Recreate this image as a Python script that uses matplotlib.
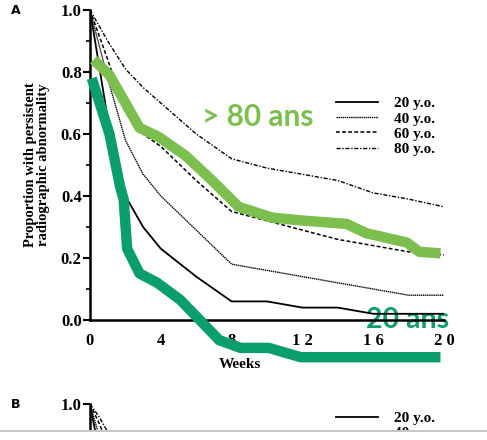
import numpy as np
import matplotlib
matplotlib.use("Agg")
import matplotlib.pyplot as plt
from matplotlib.patches import Rectangle

# panel A, values
weeks = [0, 1, 2, 3, 4, 6, 8, 10, 12, 14, 16, 18, 20]
y20 = [1.0, 0.65, 0.40, 0.30, 0.23, 0.14, 0.06, 0.06, 0.04, 0.04, 0.02, 0.02, 0.02]
y40 = [1.0, 0.78, 0.58, 0.47, 0.40, 0.29, 0.18, 0.16, 0.14, 0.12, 0.10, 0.08, 0.08]
y60 = [1.0, 0.84, 0.67, 0.60, 0.56, 0.45, 0.35, 0.32, 0.29, 0.26, 0.24, 0.22, 0.21]
y80 = [1.0, 0.90, 0.81, 0.75, 0.70, 0.60, 0.52, 0.49, 0.47, 0.45, 0.41, 0.39, 0.365]
ages = ["20 y.o.", "40 y.o.", "60 y.o.", "80 y.o."]

# hand-drawn highlight curves
old_x = [0.2, 1.1, 2.1, 2.8, 3.9, 5.4, 6.9, 8.4, 10.3, 12.2, 14.5, 15.6, 17.9, 18.6, 19.8]
old_y = [0.84, 0.79, 0.69, 0.62, 0.59, 0.53, 0.45, 0.365, 0.33, 0.32, 0.31, 0.28, 0.25, 0.22, 0.215]
young_x = [0.1, 1.1, 1.7, 1.9, 2.1, 2.8, 3.8, 5.1, 6.2, 7.3, 8.5, 10.1, 11.9, 19.8]
young_y = [0.78, 0.60, 0.43, 0.39, 0.23, 0.15, 0.12, 0.065, 0.0, -0.065, -0.09, -0.09, -0.12, -0.12]

# panel B, only the top is visible
weeks_b = [0, 0.5, 1, 2]
b20 = [1.0, 0.85, 0.55, 0.35]
b40 = [1.0, 0.90, 0.75, 0.55]
b60 = [1.0, 0.94, 0.87, 0.75]
b80 = [1.0, 0.96, 0.91, 0.82]

serif = "Liberation Serif"
styles = ["-", (0, (1, 0.5)), (0, (2.5, 1.5)), (0, (3, 1.2, 1, 1.2))]
widths = [1.3, 1.0, 1.1, 1.0]

fig = plt.figure(figsize=(4.87, 4.40), dpi=100)


def draw_panel(ax, xs, series, letter):
    for ys, ls, lw, lab in zip(series, styles, widths, ages):
        ax.plot(xs, ys, color="black", linestyle=ls, linewidth=lw, label=lab, zorder=3)
    ax.set_xlim(0, 20)
    ax.set_ylim(0, 1.0)
    ax.spines["top"].set_visible(False)
    ax.spines["right"].set_visible(False)
    ax.spines["left"].set_linewidth(1.8)
    ax.spines["bottom"].set_linewidth(1.8)
    ax.set_yticks([0.0, 0.2, 0.4, 0.6, 0.8, 1.0])
    ax.set_yticks(np.arange(0.1, 1.0, 0.2), minor=True)
    ax.set_yticklabels(["0.0", "0.2", "0.4", "0.6", "0.8", "1.0"],
                       fontfamily=serif, fontweight="bold", fontsize=12)
    ax.tick_params(axis="y", which="major", length=5, width=1.5, direction="out", pad=1)
    ax.tick_params(axis="y", which="minor", length=3, width=1.2, direction="out")
    ax.set_xticks([0, 4, 8, 12, 16, 20])
    ax.set_xticklabels(["0", "4", "8", "1 2", "1 6", "2 0"],
                       fontfamily=serif, fontweight="bold", fontsize=12)
    ax.tick_params(axis="x", length=0, pad=9)
    ax.text(-0.21, 1.0, letter, transform=ax.transAxes, fontsize=9,
            fontweight="bold", ha="center", va="center")
    ax.legend(loc="upper left", frameon=False,
              handlelength=2.8, handletextpad=1.0, labelspacing=0.1,
              prop={"family": serif, "weight": "bold", "size": 11})


# panel A
axA = fig.add_axes([90 / 487, 120 / 440, 354 / 487, 310 / 440])
draw_panel(axA, weeks, [y20, y40, y60, y80], "A")
axA.legend_.set_bbox_to_anchor((0.655, 0.765))
axA.set_ylabel("Proportion with persistent\nradiographic abnormality",
               fontfamily=serif, fontweight="bold", fontsize=10.5, labelpad=8,
               linespacing=0.95)
axA.set_xlabel("Weeks", fontfamily=serif, fontweight="bold", fontsize=11)
axA.xaxis.set_label_coords(0.424, -0.123)

axA.plot(old_x, old_y, color="#7dbf4f", linewidth=7.5, solid_capstyle="butt",
         solid_joinstyle="round", zorder=4, clip_on=False)
axA.plot(young_x, young_y, color="#0b9e6d", linewidth=7.5, solid_capstyle="butt",
         solid_joinstyle="round", zorder=4, clip_on=False)
axA.text(6.3, 0.655, "> 80 ans", color="#7dbf4f", fontfamily="Lato",
         fontweight="bold", fontsize=21.5, ha="left", va="center", zorder=2)
axA.text(15.6, 0.0, "20 ans", color="#0b9e6d", fontfamily="Lato",
         fontweight="bold", fontsize=20.5, ha="left", va="center", zorder=2,
         clip_on=False)

# panel B (cut off by the slide edge)
axB = fig.add_axes([90 / 487, (440 - 404 - 310) / 440, 354 / 487, 310 / 440])
draw_panel(axB, weeks_b, [b20, b40, b60, b80], "B")
axB.legend_.set_bbox_to_anchor((0.655, 1.02))
axB.set_xticklabels([])
axB.set_yticklabels(["", "", "", "", "", "1.0"], fontfamily=serif,
                    fontweight="bold", fontsize=12)

# slide edge
fig.add_artist(Rectangle((0, 0), 1, 8 / 440, transform=fig.transFigure,
                         facecolor="white", edgecolor="none", zorder=10))
fig.add_artist(Rectangle((0, 8 / 440), 1, 2 / 440, transform=fig.transFigure,
                         facecolor="#c8c8c8", edgecolor="none", zorder=10))

fig.savefig("out.png", dpi=100)
